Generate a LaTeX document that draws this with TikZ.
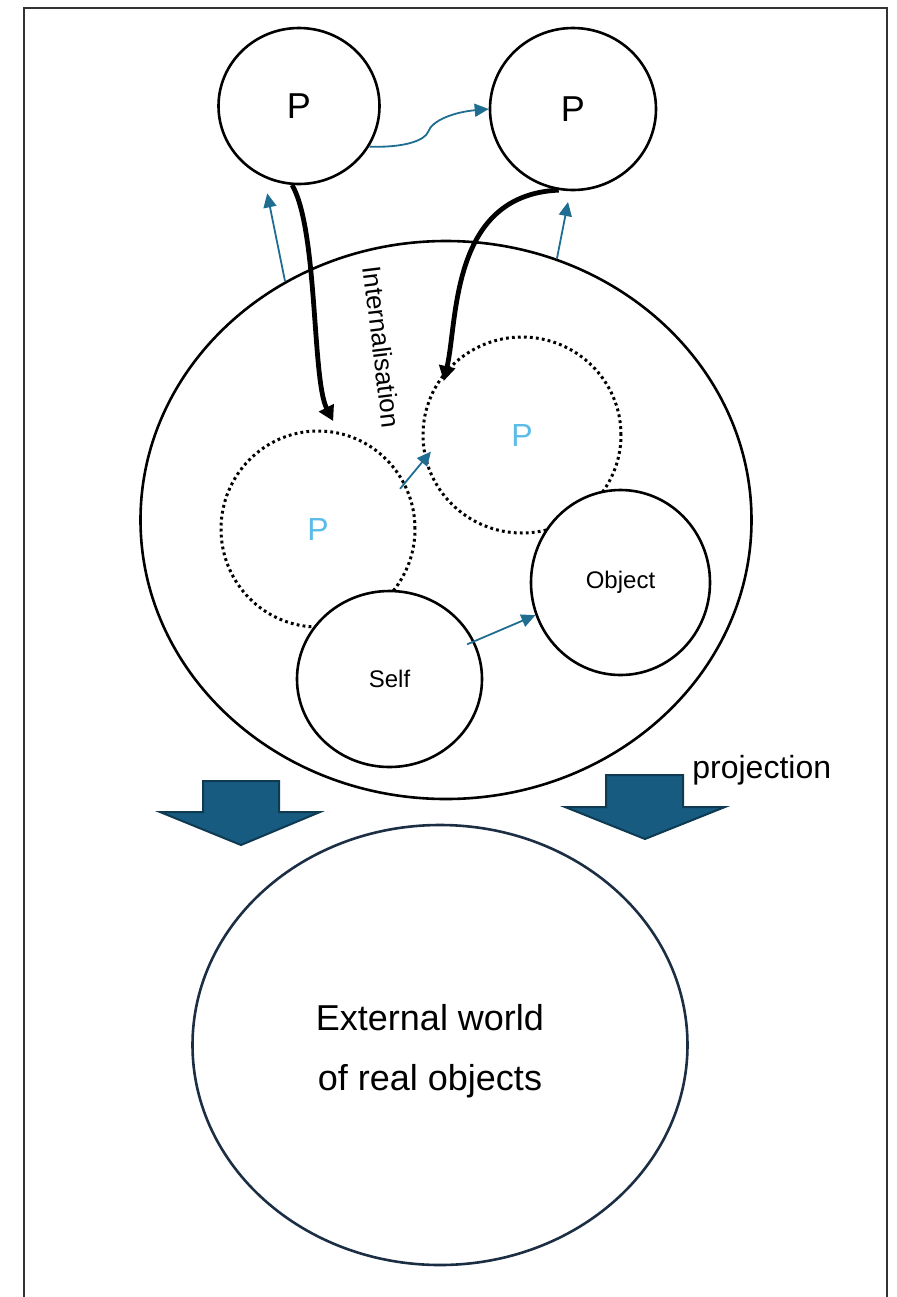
\documentclass[tikz,border=0pt]{standalone}
\usepackage{fontspec}
\setmainfont{Liberation Sans}
\usetikzlibrary{arrows.meta,shapes.geometric}
\definecolor{linkblue}{HTML}{1F6E92}
\definecolor{blockfill}{HTML}{175B80}
\definecolor{blockdraw}{HTML}{0E3A52}
\definecolor{ghostp}{HTML}{5BBCE8}
\definecolor{worldline}{HTML}{1C2E44}

\begin{document}
\begin{tikzpicture}[x=0.5pt, y=-0.5pt,
    circ/.style={draw, ellipse, line width=1.3pt, inner sep=0pt, fill=white},
    ghost/.style={draw, ellipse, inner sep=0pt, line width=1.5pt, dash pattern=on 1.4pt off 1.6pt, text=ghostp, font=\fontsize{16}{18}\selectfont},
    link/.style={draw=linkblue, line width=0.9pt, -{Triangle[length=7pt,width=6.5pt]}},
    pull/.style={line width=2.4pt, -{Triangle[length=7.5pt,width=8pt]}},
    block/.style={fill=blockfill, draw=blockdraw, line width=1pt, line join=miter}]
  \useasboundingbox (0,0) rectangle (896,1297);
  \draw[line width=0.6pt, black!80] (24,8) rectangle (887,1320);

  % the two outer P
  \node[circ, minimum width=80.5pt, minimum height=78pt, font=\fontsize{18}{20}\selectfont] (pl) at (299,106) {P};
  \node[circ, minimum width=83pt, minimum height=81pt, font=\fontsize{18}{20}\selectfont] (pr) at (573,109) {P};

  % the mind
  \node[circ, fill=none, minimum width=305.5pt, minimum height=279pt] (mind) at (446,520) {};
  \node[ghost, minimum width=97pt, minimum height=98pt] (dl) at (318,529) {P};
  \node[ghost, minimum width=99pt, minimum height=98pt] (dr) at (522,435) {P};
  \node[circ, minimum width=92.5pt, minimum height=88pt, font=\fontsize{12}{14}\selectfont] (self) at (389.5,679) {Self};
  \node[circ, minimum width=89.5pt, minimum height=92.5pt, font=\fontsize{12}{14}\selectfont] (obj) at (620.5,582.5) {Object};

  \node[rotate=-83, font=\fontsize{13}{15}\selectfont] (intl) at (382,347) {Internalisation};

  % connectors
  \draw[link] (pl.-30) .. controls (405,148) and (425,140) .. (428,132)
    .. controls (432,120) and (455,112) .. (pr.180);
  \draw[link, shorten >=8pt] (mind.124) -- (pl.-116);
  \draw[link, shorten >=5.5pt] (mind.67) -- (pr.-92);
  \draw[pull, shorten >=6pt] (pl.-95) .. controls (318,230) and (312,380) .. (dl.78);
  \draw[pull, shorten >=-6pt] (pr.-100) .. controls (450,195) and (458,320) .. (dr.139);
  \draw[link, shorten <=-4pt, shorten >=-5pt] (dl.28) -- (dr.194);
  \draw[link, shorten <=-4pt] (self.24) -- (obj.201);

  % projection
  \draw[block] (203,781) -- (279,781) -- (279,812) -- (320,812) -- (241,845)
    -- (160,812) -- (203,812) -- cycle;
  \draw[block] (606,775) -- (683,775) -- (683,807) -- (725,807) -- (645,839)
    -- (565,807) -- (606,807) -- cycle;
  \node[anchor=base west, inner sep=0pt, font=\fontsize{16}{18}\selectfont] (proj) at (692,778) {projection};

  % the world
  \node[draw=worldline, ellipse, line width=1.3pt, minimum width=247.5pt, minimum height=220pt] (world) at (440,1045) {};
  \node[align=center, font=\fontsize{18}{30}\selectfont] (worldtext) at (430,1051) {External world\\of real objects};
\end{tikzpicture}
\end{document}
